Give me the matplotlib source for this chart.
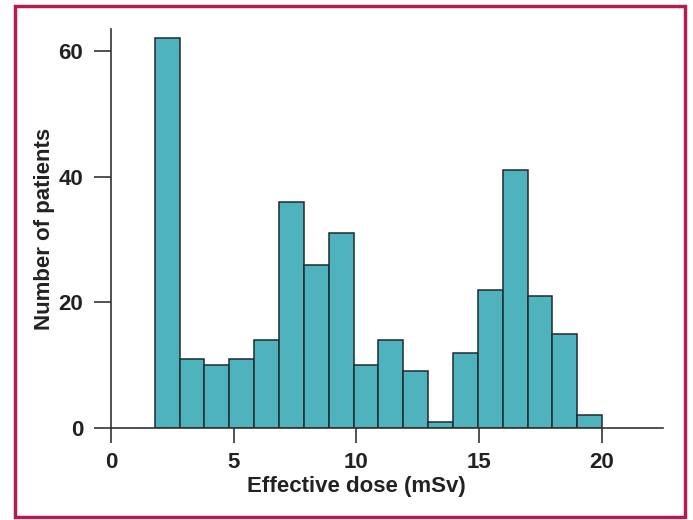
import numpy as np
import matplotlib.pyplot as plt
from matplotlib.patches import Rectangle

plt.rcParams['font.family'] = ['Liberation Sans', 'DejaVu Sans']
plt.rcParams['font.weight'] = 'bold'

# histogram counts per bin (effective dose, mSv)
counts = [62, 11, 10, 11, 14, 36, 26, 31, 10, 14, 9, 1, 12, 22, 41, 21, 15, 2]
bin_start = 1.78
bin_end = 20.02
x_ticks = [0, 5, 10, 15, 20]
y_ticks = [0, 20, 40, 60]

edges = np.linspace(bin_start, bin_end, len(counts) + 1)

W, H = 693, 520
fig = plt.figure(figsize=(W / 100, H / 100), dpi=100)
ax = fig.add_axes([111 / W, 1 - 428 / H, (663 - 111) / W, (428 - 29) / H])

ax.bar(edges[:-1], counts, width=np.diff(edges), align='edge',
       color='#4fb3be', edgecolor='#1d2b30', linewidth=1.1)

ax.set_xlim(0, 22.5)
ax.set_ylim(0, 63.5)
ax.set_xticks(x_ticks)
ax.set_yticks(y_ticks)
for s in ['top', 'right']:
    ax.spines[s].set_visible(False)
for s in ['left', 'bottom']:
    ax.spines[s].set_color('#333333')
    ax.spines[s].set_linewidth(1.2)

ax.tick_params(axis='x', length=11, width=1.2, color='#333333', pad=6,
               labelsize=16, labelcolor='#222222')
ax.tick_params(axis='y', length=12, width=1.2, color='#333333', pad=8,
               labelsize=16, labelcolor='#222222')

ax.set_xlabel('Effective dose (mSv)', fontsize=16, fontweight='bold', color='#222222')
ax.xaxis.set_label_coords((356 - 111) / (663 - 111), -(476 - 428) / (428 - 29))
ax.set_ylabel('Number of patients', fontsize=16, fontweight='bold', color='#222222')
ax.yaxis.set_label_coords(-(111 - 55) / (663 - 111), 0.5)

fig.patches.append(Rectangle((15 / W, 1 - 517 / H), (685 - 15) / W, (517 - 6) / H,
                             transform=fig.transFigure, fill=False,
                             edgecolor='#b31c4e', linewidth=2.5))

fig.savefig('out.png', dpi=100)
